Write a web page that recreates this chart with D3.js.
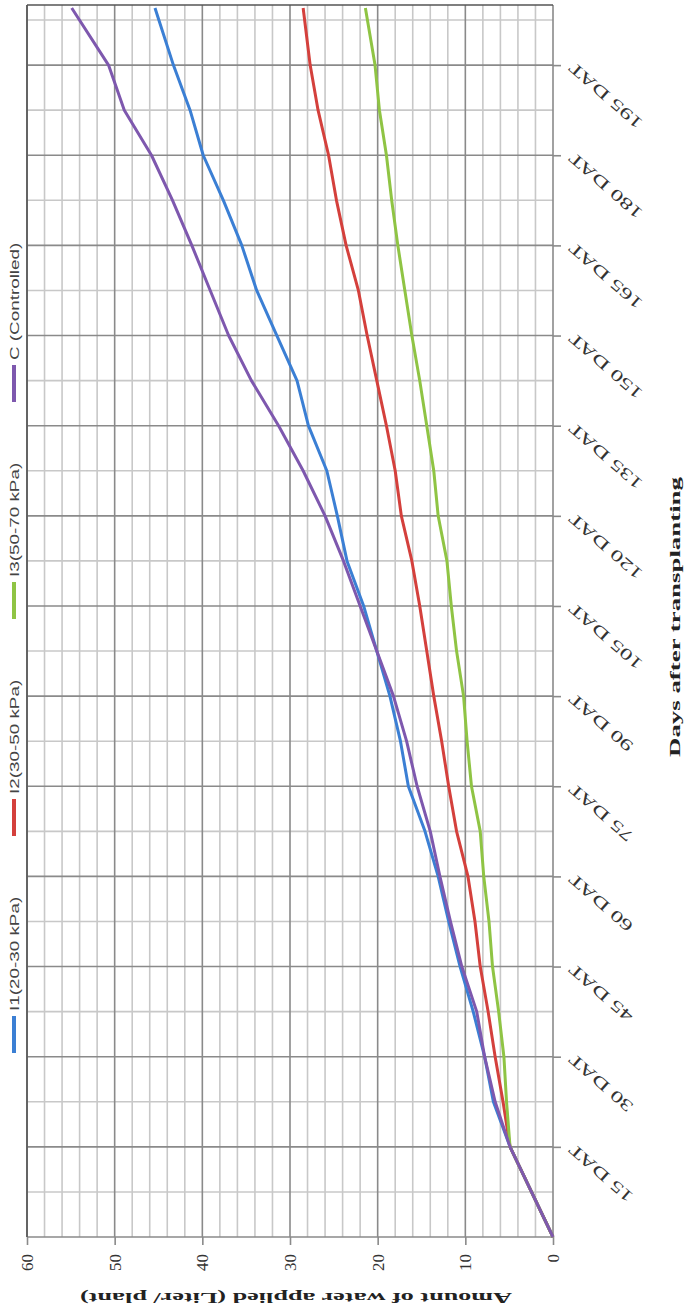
<!DOCTYPE html>
<html><head><meta charset="utf-8">
<script src="https://cdn.jsdelivr.net/npm/d3@7"></script>
<style>body{margin:0;background:#fff}</style>
</head><body>
<svg id="chart" width="684" height="1313"></svg>
<script>
// ---- data ----
const days = [0, 15, 22.5, 30, 37.5, 45, 52.5, 60, 67.5, 75, 82.5, 90, 97.5, 105, 112.5, 120, 127.5, 135, 142.5, 150, 157.5, 165, 172.5, 180, 187.5, 195, 204.5];
const I1 = [0, 4.9, 6.8, 7.8, 9.1, 10.6, 11.9, 13.1, 14.6, 16.5, 17.4, 18.6, 20.1, 21.6, 23.5, 24.6, 25.8, 27.9, 29.2, 31.5, 33.8, 35.5, 37.6, 39.9, 41.4, 43.3, 45.4];
const I2 = [0, 4.9, 5.7, 6.6, 7.4, 8.3, 8.9, 9.7, 11.0, 11.9, 12.7, 13.6, 14.4, 15.2, 16.1, 17.3, 18.0, 19.0, 20.1, 21.2, 22.2, 23.6, 24.7, 25.6, 26.8, 27.7, 28.5];
const I3 = [0, 4.9, 5.3, 5.6, 6.2, 6.9, 7.3, 7.9, 8.3, 9.3, 9.8, 10.2, 11.0, 11.6, 12.1, 13.1, 13.6, 14.4, 15.2, 16.1, 16.9, 17.7, 18.4, 19.0, 19.8, 20.3, 21.4];
const C  = [0, 4.9, 6.6, 7.8, 8.7, 10.4, 11.7, 12.9, 14.0, 15.5, 16.7, 18.2, 20.1, 22.0, 23.9, 26.0, 28.5, 31.3, 34.4, 37.0, 39.1, 41.2, 43.4, 45.8, 48.9, 50.7, 54.9];
const seriesNames = ["I1(20-30 kPa)", "I2(30-50 kPa)", "I3(50-70 kPa)", "C (Controlled)"];
const dayTicks = [15, 30, 45, 60, 75, 90, 105, 120, 135, 150, 165, 180, 195];
const valueTicks = [0, 10, 20, 30, 40, 50, 60];
const yTitle = "Amount of water applied (Liter/ plant)";
const xTitle = "Days after transplanting";

const seriesValues = [I1, I2, I3, C];
const colors = ["#3b7fd4", "#d4403c", "#8fc444", "#7e58ae"];

// ---- chart (drawn rotated: amount runs right-to-left, days bottom-to-top) ----
const svg = d3.select("#chart");
const x = d3.scaleLinear().domain([0, 60]).range([553, 27]);
const y = d3.scaleLinear().domain([0, 205]).range([1237, 5]);

const grid = svg.append("g");
const vVals = d3.range(0, 61, 2);
const hVals = d3.range(0, 205, 7.5);
const isMajV = d => d % 10 === 0;
const isMajH = d => d % 15 === 0;

grid.selectAll("line.vmin").data(vVals.filter(d => !isMajV(d))).join("line")
  .attr("x1", d => x(d)).attr("x2", d => x(d)).attr("y1", y(0)).attr("y2", y(205))
  .attr("stroke", "#c8c8c8").attr("stroke-width", 1.6);
grid.selectAll("line.hmin").data(hVals.filter(d => !isMajH(d))).join("line")
  .attr("x1", x(0)).attr("x2", x(60)).attr("y1", d => y(d)).attr("y2", d => y(d))
  .attr("stroke", "#c8c8c8").attr("stroke-width", 1.6);
grid.selectAll("line.vmaj").data(vVals.filter(isMajV)).join("line")
  .attr("x1", d => x(d)).attr("x2", d => x(d)).attr("y1", y(0)).attr("y2", y(205))
  .attr("stroke", "#8a8a8a").attr("stroke-width", 1.6);
grid.selectAll("line.hmaj").data(hVals.filter(isMajH)).join("line")
  .attr("x1", x(0)).attr("x2", x(60)).attr("y1", d => y(d)).attr("y2", d => y(d))
  .attr("stroke", "#8a8a8a").attr("stroke-width", 1.6);
// frame
grid.append("line").attr("x1", x(60)).attr("x2", x(0)).attr("y1", y(205)).attr("y2", y(205))
  .attr("stroke", "#555").attr("stroke-width", 1.6);
grid.append("line").attr("x1", x(60)).attr("x2", x(60)).attr("y1", y(205)).attr("y2", y(0))
  .attr("stroke", "#555").attr("stroke-width", 1.6);

// value axis (bottom)
const ax = svg.append("g").attr("transform", `translate(0,${y(0)})`)
  .call(d3.axisBottom(x).tickValues(valueTicks).tickSize(8).tickFormat(d3.format("d")));
ax.select(".domain").remove();
ax.selectAll(".tick line").attr("stroke", "#8a8a8a").attr("stroke-width", 1.6);
ax.selectAll(".tick text")
  .attr("y", null).attr("dy", null)
  .attr("transform", "translate(0,17) rotate(-90)")
  .attr("text-anchor", "end").attr("dominant-baseline", "central")
  .attr("fill", "#333").style("font-family", "'Liberation Serif', serif").style("font-size", "17px");

// day axis (right)
const ay = svg.append("g").attr("transform", `translate(${x(0)},0)`)
  .call(d3.axisRight(y).tickValues(dayTicks).tickSize(8).tickFormat(d => d + " DAT"));
ay.select(".domain").remove();
ay.selectAll(".tick line").attr("stroke", "#8a8a8a").attr("stroke-width", 1.6);
ay.selectAll(".tick text")
  .attr("x", null).attr("dy", null)
  .attr("transform", "translate(18,0) rotate(-139) scale(1.55,1)")
  .attr("text-anchor", "end").attr("dominant-baseline", "central")
  .attr("fill", "#333").style("font-family", "'Liberation Serif', serif").style("font-size", "16px");

// series lines
const line = d3.line().x(d => x(d[1])).y(d => y(d[0]));
seriesValues.forEach((vals, i) => {
  svg.append("path")
    .datum(days.map((d, j) => [d, vals[j]]))
    .attr("fill", "none").attr("stroke", colors[i]).attr("stroke-width", 3)
    .attr("stroke-linejoin", "round").attr("d", line);
});

// legend (rotated, along the left edge)
seriesNames.forEach((name, i) => {
  const base = 1053 - i * 217;
  svg.append("line").attr("x1", 14).attr("x2", 14).attr("y1", base).attr("y2", base - 37)
    .attr("stroke", colors[i]).attr("stroke-width", 4);
  svg.append("text").text(name)
    .attr("transform", `translate(14,${base - 42}) rotate(-90) scale(1.45,1)`)
    .attr("text-anchor", "start").attr("dominant-baseline", "central")
    .attr("fill", "#444").style("font-family", "'Liberation Sans', Arial, sans-serif").style("font-size", "13px");
});

// axis titles
svg.append("text").text(yTitle)
  .attr("transform", "translate(296,1298) rotate(180)")
  .attr("text-anchor", "middle").attr("dominant-baseline", "central")
  .attr("textLength", 432).attr("lengthAdjust", "spacingAndGlyphs")
  .attr("fill", "#222").style("font-family", "'Liberation Serif', serif").style("font-weight", "bold").style("font-size", "15px");
svg.append("text").text(xTitle)
  .attr("transform", "translate(675,617) rotate(-90)")
  .attr("text-anchor", "middle").attr("dominant-baseline", "central")
  .attr("textLength", 280).attr("lengthAdjust", "spacingAndGlyphs")
  .attr("fill", "#222").style("font-family", "'Liberation Serif', serif").style("font-weight", "bold").style("font-size", "15px");
</script>
</body></html>
